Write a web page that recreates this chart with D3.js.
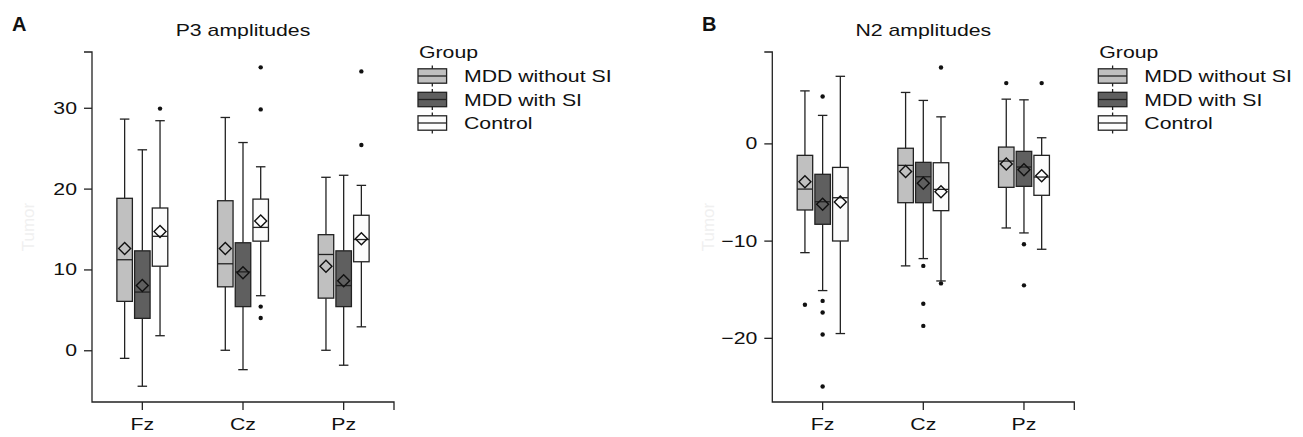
<!DOCTYPE html>
<html>
<head>
<meta charset="utf-8">
<script src="https://cdn.jsdelivr.net/npm/d3@7"></script>
<style>
body { margin: 0; background: #fff; }
text { font-family: "Liberation Sans", Arial, sans-serif; }
</style>
</head>
<body>
<div class="canvas"></div>
<script>
const sites = ['Fz', 'Cz', 'Pz'];
const groups = ['MDD without SI', 'MDD with SI', 'Control'];
const fills = ['#c0c0c0', '#5f5f5f', '#fcfcfc'];

// one row per site: [low whisker, q1, median, q3, high whisker, mean]
const p3NoSI = [[-1.0, 6.05, 11.2, 18.8, 28.6, 12.6], [0, 7.85, 10.7, 18.5, 28.8, 12.6], [0, 6.45, 11.85, 14.3, 21.4, 10.4]];
const p3SI = [[-4.45, 3.95, 7.2, 12.3, 24.8, 8.0], [-2.4, 5.4, 9.7, 13.3, 25.7, 9.6], [-1.85, 5.4, 8.0, 12.3, 21.65, 8.6]];
const p3Ctrl = [[1.8, 10.4, 14.1, 17.6, 28.4, 14.7], [6.75, 13.5, 15.2, 18.7, 22.7, 16.0], [2.9, 10.95, 13.7, 16.7, 20.4, 13.8]];
// outliers, per group then per site
const p3Out = [[[], [], []], [[], [], []], [[29.9], [35.0, 29.8, 5.4, 4.0], [34.5, 25.4]]];
const p3Ticks = [0, 10, 20, 30];

const n2NoSI = [[-11.24, -6.85, -4.7, -1.23, 5.4, -3.94], [-12.6, -6.1, -2.26, -0.5, 5.24, -2.88], [-8.7, -4.52, -1.82, -0.38, 4.55, -2.13]];
const n2SI = [[-15.14, -8.32, -6.0, -3.18, 2.88, -6.27], [-11.85, -6.1, -3.43, -1.95, 4.42, -4.11], [-9.21, -4.42, -2.43, -0.82, 4.48, -2.71]];
const n2Ctrl = [[-19.56, -10.04, -5.59, -2.47, 6.9, -6.03], [-14.15, -6.92, -4.73, -1.99, 2.73, -4.97], [-10.89, -5.34, -3.46, -1.23, 0.58, -3.33]];
const n2Out = [[[-16.6], [], [6.2]], [[4.83, -16.2, -17.4, -19.66, -25.0], [-12.6, -16.5, -18.77], [-10.38, -14.6]], [[], [7.8, -14.4], [6.2]]];
const n2Ticks = [-20, -10, 0];

const svg = d3.select('.canvas')
	.append('svg')
	.attr('width', 1303)
	.attr('height', 437);

const plotTop = 52, plotBottom = 402, plotW = 302;
const stretch = 'scale(1.25,1)'; // the source font is drawn wide
const ink = '#222';

function panel(opts) {
	const g = svg.append('g').attr('transform', `translate(${opts.left},0)`);

	const x = d3.scaleBand().domain(sites).range([0, plotW]);
	const dodge = d3.scalePoint().domain(groups).range([-17.7, 17.7]);
	const y = d3.scaleLinear().domain(opts.domain).range([plotBottom, plotTop]);
	const boxW = 15.5, capW = 9.5;

	// axes
	const yAxis = d3.axisLeft(y).tickValues(opts.ticks).tickSize(8).tickSizeOuter(0);
	const xAxis = d3.axisBottom(x).tickSize(8).tickSizeOuter(0);

	const yG = g.append('g').call(yAxis);
	const xG = g.append('g').attr('transform', `translate(0,${plotBottom})`).call(xAxis);
	[yG, xG].forEach(a => {
		a.select('.domain').remove();
		a.selectAll('line').attr('stroke', ink).attr('stroke-width', 1.3);
		a.selectAll('text').attr('fill', '#111').style('font-size', '17px')
			.attr('transform', stretch);
	});
	yG.selectAll('text').attr('x', -12);
	xG.selectAll('text').attr('y', 16);

	const [r0, r1] = y.range();
	g.append('path')
		.attr('d', `M-8,${r1}H0V${r0}H${plotW}V${r0 + 8}`)
		.attr('fill', 'none')
		.attr('stroke', ink)
		.attr('stroke-width', 1.3);

	// boxes
	opts.series.forEach((rows, gi) => {
		const grp = groups[gi];
		const bg = g.append('g');
		rows.forEach((s, si) => {
			const cx = x(sites[si]) + x.bandwidth() / 2 + dodge(grp);
			const [lo, q1, med, q3, hi, mean] = s;
			// whiskers
			bg.append('line').attr('x1', cx).attr('x2', cx).attr('y1', y(hi)).attr('y2', y(q3));
			bg.append('line').attr('x1', cx).attr('x2', cx).attr('y1', y(q1)).attr('y2', y(lo));
			bg.append('line').attr('x1', cx - capW / 2).attr('x2', cx + capW / 2).attr('y1', y(hi)).attr('y2', y(hi));
			bg.append('line').attr('x1', cx - capW / 2).attr('x2', cx + capW / 2).attr('y1', y(lo)).attr('y2', y(lo));
			bg.append('rect')
				.attr('x', cx - boxW / 2)
				.attr('y', y(q3))
				.attr('width', boxW)
				.attr('height', y(q1) - y(q3))
				.attr('fill', fills[gi]);
			bg.append('line').attr('x1', cx - boxW / 2).attr('x2', cx + boxW / 2).attr('y1', y(med)).attr('y2', y(med));
			bg.append('path')
				.attr('d', d3.symbol(d3.symbolSquare, 72)())
				.attr('transform', `translate(${cx},${y(mean)}) rotate(45)`)
				.attr('fill', 'none')
				.attr('stroke', '#111')
				.attr('stroke-width', 1.4);
			bg.selectAll(null)
				.data(opts.outliers[gi][si])
				.enter()
				.append('circle')
				.attr('cx', cx)
				.attr('cy', d => y(d))
				.attr('r', 2.2)
				.attr('fill', '#111');
		});
		bg.selectAll('line, rect').attr('stroke', ink).attr('stroke-width', 1.3);
	});

	// titles
	g.append('text')
		.attr('transform', `translate(${plotW / 2},36) ${stretch}`)
		.attr('text-anchor', 'middle')
		.style('font-size', '17px')
		.attr('fill', '#111')
		.text(opts.title);

	svg.append('text')
		.attr('x', opts.labelX)
		.attr('y', 30.5)
		.style('font-size', '20px')
		.style('font-weight', 'bold')
		.attr('fill', '#111')
		.text(opts.label);

	g.append('text')
		.attr('transform', `translate(-58,${(plotTop + plotBottom) / 2}) rotate(-90)`)
		.attr('text-anchor', 'middle')
		.style('font-size', '17px')
		.attr('fill', '#f0f0f0')
		.text('Tumor');

	// legend
	const lg = g.append('g').attr('transform', `translate(${plotW + 24},0)`);
	lg.append('text')
		.attr('transform', `translate(1,58) ${stretch}`)
		.style('font-size', '17px')
		.attr('fill', '#111')
		.text('Group');
	const row = d3.scalePoint().domain(groups).range([76, 123]);
	groups.forEach((grp, i) => {
		const cy = row(grp);
		lg.append('line').attr('x1', 14.3).attr('x2', 14.3).attr('y1', cy - 10.5).attr('y2', cy + 10.5);
		lg.append('rect').attr('x', 0).attr('y', cy - 7.2).attr('width', 28.6).attr('height', 14.4).attr('fill', fills[i]);
		lg.append('line').attr('x1', 0).attr('x2', 28.6).attr('y1', cy).attr('y2', cy);
		lg.append('text')
			.attr('transform', `translate(46,${cy + 6}) ${stretch}`)
			.style('font-size', '17px')
			.attr('fill', '#111')
			.text(grp);
	});
	lg.selectAll('line, rect').attr('stroke', ink).attr('stroke-width', 1.3);
}

panel({
	left: 92, domain: [-6.4, 36.9], ticks: p3Ticks,
	series: [p3NoSI, p3SI, p3Ctrl], outliers: p3Out,
	title: 'P3 amplitudes', label: 'A', labelX: 12
});
panel({
	left: 772.3, domain: [-26.6, 9.4], ticks: n2Ticks,
	series: [n2NoSI, n2SI, n2Ctrl], outliers: n2Out,
	title: 'N2 amplitudes', label: 'B', labelX: 702
});
</script>
</body>
</html>
